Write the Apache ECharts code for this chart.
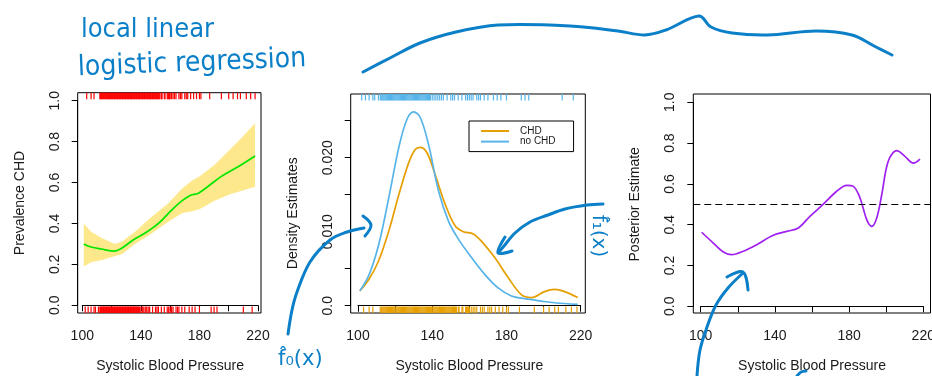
<!DOCTYPE html>
<html>
<head>
<meta charset="utf-8">
<script src="https://cdn.jsdelivr.net/npm/echarts@6/dist/echarts.min.js"></script>
<style>
html, body { margin: 0; padding: 0; background: #fff; }
#chart { width: 932px; height: 376px; }
</style>
</head>
<body>
<div id="chart"></div>
<script>
// left panel: local linear logistic fit and its band
var prevX = [101, 106, 113, 122, 126, 135, 144, 152, 161, 168, 174, 179, 186, 195, 207, 218];
var prevFit = [0.30, 0.285, 0.275, 0.265, 0.275, 0.32, 0.358, 0.40, 0.465, 0.51, 0.538, 0.547, 0.582, 0.63, 0.68, 0.73];
var bandX = [101, 106, 113, 122, 127, 136, 147, 159, 168, 175, 180, 190, 200, 209, 218];
var bandUpper = [0.40, 0.36, 0.33, 0.30, 0.31, 0.36, 0.43, 0.50, 0.57, 0.61, 0.63, 0.685, 0.755, 0.82, 0.89];
var bandLower = [0.19, 0.21, 0.22, 0.24, 0.25, 0.30, 0.35, 0.41, 0.45, 0.46, 0.47, 0.51, 0.54, 0.56, 0.58];

// middle panel: class densities
var chdX = [101, 106, 111, 116.6, 122, 127.3, 130.8, 133.6, 137.1, 141.6, 147, 152.3, 156.8, 162.1, 166.6, 173.7, 180.9, 188, 193.4, 200.5, 205.9, 211.3, 218.4];
var chdY = [0.0020, 0.0036, 0.0060, 0.0101, 0.0150, 0.0193, 0.0211, 0.0214, 0.0207, 0.0177, 0.0137, 0.0108, 0.0100, 0.0097, 0.0087, 0.0065, 0.0038, 0.0015, 0.0011, 0.0019, 0.0022, 0.0019, 0.0011];
var noChdX = [101, 106, 111.2, 116.6, 122, 126.4, 130, 133.6, 138, 143.4, 148.8, 154.1, 161.2, 168.4, 175.5, 182.7, 189.8, 198.7, 205.9, 218.4];
var noChdY = [0.0020, 0.0042, 0.0083, 0.0146, 0.0214, 0.0252, 0.0262, 0.0254, 0.0218, 0.0155, 0.0114, 0.0090, 0.0065, 0.0042, 0.0024, 0.0013, 0.00095, 0.00063, 0.0004, 0.00018];

// right panel: posterior
var postX = [100.5, 106.8, 112.2, 116.7, 123, 130.2, 139.1, 146.4, 152.6, 158.9, 166.1, 173.3, 178.7, 182.3, 185.9, 189.5, 192.2, 194.9, 197.6, 201.1, 205.7, 210.1, 214.6, 218.2];
var postY = [0.363, 0.310, 0.266, 0.253, 0.270, 0.302, 0.348, 0.367, 0.384, 0.441, 0.501, 0.564, 0.593, 0.588, 0.531, 0.425, 0.392, 0.433, 0.547, 0.711, 0.763, 0.735, 0.702, 0.722];
var threshold = 0.5;

// rugs (observed sbp values, jittered)
var chdRug = [103, 106, 108, 112, 112.5, 113, 113.5, 114, 114.5, 115, 115.5, 116, 116.5, 117, 117.5, 118, 118.5, 119, 119.5, 120, 120.5, 121, 121.5, 122, 122.5, 123, 123.5, 124, 124.5, 125, 125.5, 126, 126.5, 127, 127.5, 128, 128.5, 129, 129.5, 130, 130.5, 131, 131.5, 132, 132.5, 133, 133.5, 134, 134.5, 135, 135.5, 136, 136.5, 137, 137.5, 138, 138.5, 139, 139.5, 140, 140.5, 141, 141.5, 142, 142.5, 143, 143.5, 144, 144.5, 145, 145.5, 146, 146.5, 147, 147.5, 148, 148.5, 149, 149.5, 150, 150.5, 151, 151.5, 152, 152.5, 153, 154, 154.5, 156, 156.5, 158, 158.5, 159, 159.5, 160, 161, 162, 163, 164, 166, 167, 168, 170, 171, 172, 174, 176, 178, 180, 181, 187, 195, 200, 203, 206, 208, 212, 215, 218];
var noChdRug = [102, 104, 106, 108, 109, 111, 112, 112.5, 113, 113.5, 114, 114.5, 115, 115.5, 116, 116.5, 117, 117.5, 118, 118.5, 119, 119.5, 120, 120.5, 121, 121.5, 122, 122.5, 123, 123.5, 124, 124.5, 125, 125.5, 126, 126.5, 127, 127.5, 128, 128.5, 129, 129.5, 130, 130.5, 131, 131.5, 132, 132.5, 133, 133.5, 134, 134.5, 135, 135.5, 136, 136.5, 137, 137.5, 138, 138.5, 139, 140, 141, 142, 143, 144, 145, 146, 148, 150, 151, 152, 154, 156, 158, 159, 160, 161, 162, 164, 165, 166, 168, 170, 173, 175, 177, 180, 188, 190, 192, 210, 216];

// tick labels
var xLabelVals = [100, 140, 180, 220];
var probLabels = ['0.0', '0.2', '0.4', '0.6', '0.8', '1.0'];
var densLabels = ['0.0', '', '0.010', '', '0.020', ''];

var FONT = '"Liberation Sans", Arial, Helvetica, sans-serif';
var HAND = '"Liberation Sans Narrow", "DejaVu Sans Condensed", sans-serif';
var TXT = '#1a1a1a';
var INK = '#0b7fc7';

// box and tick pixel positions of each panel
var layout = [
  { box: [77.7, 92.7, 261, 313], tick: [82.3, 258, 305.3, 100.7] },
  { box: [350.7, 94, 585.3, 313], tick: [358, 580.7, 305.7, 120.7] },
  { box: [693.3, 94, 930.5, 313], tick: [700.7, 923.3, 306.3, 102.3] }
];
var yScales = [
  { min: 0, max: 1, step: 0.2, labels: probLabels, name: 'Prevalence CHD' },
  { min: 0, max: 0.025, step: 0.005, labels: densLabels, name: 'Density Estimates' },
  { min: 0, max: 1, step: 0.2, labels: probLabels, name: 'Posterior Estimate' }
];

var grids = [], xAxes = [], yAxes = [], ext = [];
layout.forEach(function (p, i) {
  var b = p.box, t = p.tick, ys = yScales[i];
  var kx = (t[1] - t[0]) / 120;
  var ky = (t[2] - t[3]) / (ys.max - ys.min);
  var e = {
    x0: 100 - (t[0] - b[0]) / kx, x1: 220 + (b[2] - t[1]) / kx,
    y0: ys.min - (b[3] - t[2]) / ky, y1: ys.max + (t[3] - b[1]) / ky
  };
  ext.push(e);
  // plot box
  grids.push({ left: b[0], top: b[1], width: b[2] - b[0], height: b[3] - b[1],
    show: true, borderColor: '#000', borderWidth: 1, backgroundColor: 'transparent', outerBoundsMode: 'none' });
  xAxes.push({ gridIndex: 2 * i, type: 'value', min: e.x0, max: e.x1, show: false });
  yAxes.push({ gridIndex: 2 * i, type: 'value', min: e.y0, max: e.y1, show: false });
  // axes
  grids.push({ left: t[0], top: t[3], width: t[1] - t[0], height: t[2] - t[3], outerBoundsMode: 'none' });
  xAxes.push({
    gridIndex: 2 * i + 1, type: 'value', min: 100, max: 220, interval: 20,
    offset: b[3] - t[2],
    axisLine: { show: true, lineStyle: { color: '#000', width: 1 } },
    axisTick: { show: true, length: 6, lineStyle: { color: '#000', width: 1 } },
    splitLine: { show: false },
    axisLabel: {
      margin: 16, fontSize: 14, color: TXT, fontFamily: FONT,
      formatter: function (v) { return xLabelVals.indexOf(Math.round(v)) >= 0 ? String(Math.round(v)) : ''; }
    },
    name: 'Systolic Blood Pressure', nameLocation: 'middle', nameGap: 46,
    nameTextStyle: { fontSize: 14, color: TXT, fontFamily: FONT }
  });
  yAxes.push({
    gridIndex: 2 * i + 1, type: 'value', min: ys.min, max: ys.max, interval: ys.step,
    offset: t[0] - b[0],
    axisLine: { show: true, lineStyle: { color: '#000', width: 1 } },
    axisTick: { show: true, length: 6, lineStyle: { color: '#000', width: 1 } },
    splitLine: { show: false },
    axisLabel: {
      rotate: 90, margin: 16, fontSize: 14, color: TXT, fontFamily: FONT,
      formatter: function (v) { return ys.labels[Math.round((v - ys.min) / ys.step)] || ''; }
    },
    name: ys.name, nameLocation: 'middle', nameGap: 51, nameRotate: 90,
    nameTextStyle: { fontSize: 14, color: TXT, fontFamily: FONT }
  });
});

function zip(xs, ys) {
  return xs.map(function (x, i) { return [x, ys[i]]; });
}

function curve(panel, xs, ys, color, name) {
  return {
    type: 'line', name: name, xAxisIndex: 2 * panel, yAxisIndex: 2 * panel,
    data: zip(xs, ys), smooth: 0.35, symbol: 'none', z: 4,
    lineStyle: { color: color, width: 1.7 }, itemStyle: { color: color }
  };
}

function rug(panel, values, top, color) {
  var e = ext[panel];
  var edge = top ? e.y1 : e.y0;
  return {
    type: 'custom', xAxisIndex: 2 * panel, yAxisIndex: 2 * panel, silent: true, z: 3,
    data: values.map(function (v) { return [v, edge]; }),
    encode: { x: 0, y: 1 },
    renderItem: function (params, api) {
      var p = api.coord([api.value(0), api.value(1)]);
      var len = top ? 6.5 : -6.5;
      return { type: 'line', shape: { x1: p[0], y1: p[1], x2: p[0], y2: p[1] + len },
        style: { stroke: color, lineWidth: 1.2 } };
    }
  };
}

var band = {
  type: 'custom', xAxisIndex: 0, yAxisIndex: 0, silent: true, z: 2,
  data: [[bandX[0], bandLower[0]]],
  encode: { x: 0, y: 1 },
  renderItem: function (params, api) {
    var pts = [];
    for (var i = 0; i < bandX.length; i++) pts.push(api.coord([bandX[i], bandUpper[i]]));
    for (var j = bandX.length - 1; j >= 0; j--) pts.push(api.coord([bandX[j], bandLower[j]]));
    return { type: 'polygon', shape: { points: pts }, style: { fill: '#fde98c' } };
  }
};

var posterior = curve(2, postX, postY, '#a020f0');
posterior.markLine = {
  silent: true, symbol: 'none', label: { show: false },
  lineStyle: { color: '#000', type: [7, 4], width: 1.2 },
  data: [{ yAxis: threshold }]
};

var series = [
  band,
  curve(0, prevX, prevFit, '#00e600'),
  rug(0, chdRug, true, '#ff0000'),
  rug(0, noChdRug, false, '#ff0000'),
  curve(1, chdX, chdY, '#e69f00', 'CHD'),
  curve(1, noChdX, noChdY, '#56b4e9', 'no CHD'),
  rug(1, noChdRug, true, '#56b4e9'),
  rug(1, chdRug, false, '#e69f00'),
  posterior
];

// handwritten notes on top of the figure
function stroke(points, w) {
  return { type: 'polyline', silent: true, z: 100,
    shape: { points: points, smooth: 0.35 },
    style: { stroke: INK, lineWidth: w || 3, fill: null, lineCap: 'round', lineJoin: 'round' } };
}
var notes = [
  { type: 'text', silent: true, z: 100, style: { text: 'local linear', x: 81, y: 30, textVerticalAlign: 'middle',
    fill: INK, fontSize: 27, fontFamily: HAND } },
  { type: 'text', silent: true, z: 100, rotation: 0.04, x: 78, y: 68,
    style: { text: 'logistic regression', x: 0, y: 0, textVerticalAlign: 'middle',
    fill: INK, fontSize: 28, fontFamily: HAND } },
  stroke([[363, 72], [390, 58], [420, 43], [456, 32], [498, 25], [570, 26], [618, 31], [645, 35], [666, 30], [699, 16], [711, 27], [732, 33], [768, 35], [816, 31], [852, 35], [876, 47], [892, 55]]),
  stroke([[288, 334], [292, 310], [297, 292], [310, 262], [330, 240], [347, 232], [364, 228]]),
  stroke([[363, 216], [371, 225], [365, 236]]),
  stroke([[603, 204], [587, 205], [565, 209], [548, 215], [530, 222], [515, 233], [504, 246], [499, 252]]),
  stroke([[505, 237], [498, 253], [512, 251]]),
  stroke([[697, 376], [700, 350], [707, 327], [716, 305], [728, 288], [743, 273]]),
  stroke([[727, 277], [743, 272], [748, 290]]),
  stroke([[797, 376], [801, 372], [806, 371]]),
  { type: 'text', silent: true, z: 100, style: { text: 'f\u0302\u2080(x)', x: 278, y: 360, textVerticalAlign: 'middle',
    fill: INK, fontSize: 21, fontFamily: '"DejaVu Sans", sans-serif' } },
  { type: 'text', silent: true, z: 100, x: 598, y: 236, rotation: -Math.PI / 2,
    style: { text: 'f\u0302\u2081(x)', x: 0, y: 0, textAlign: 'center', textVerticalAlign: 'middle',
    fill: INK, fontSize: 20, fontFamily: '"DejaVu Sans", sans-serif' } }
];

var chart = echarts.init(document.getElementById('chart'), null, { renderer: 'canvas' });
chart.setOption({
  animation: false,
  backgroundColor: '#fff',
  grid: grids,
  xAxis: xAxes,
  yAxis: yAxes,
  legend: {
    data: ['CHD', 'no CHD'], orient: 'vertical', left: 469, top: 121,
    icon: 'rect', itemWidth: 28, itemHeight: 2, itemGap: 0.6,
    padding: [5, 18, 5, 12], borderColor: '#000', borderWidth: 1, borderRadius: 0,
    textStyle: { fontSize: 10, lineHeight: 10, color: TXT, fontFamily: FONT, padding: [0, 0, 0, 6] }
  },
  series: series,
  graphic: notes
});
</script>
</body>
</html>
